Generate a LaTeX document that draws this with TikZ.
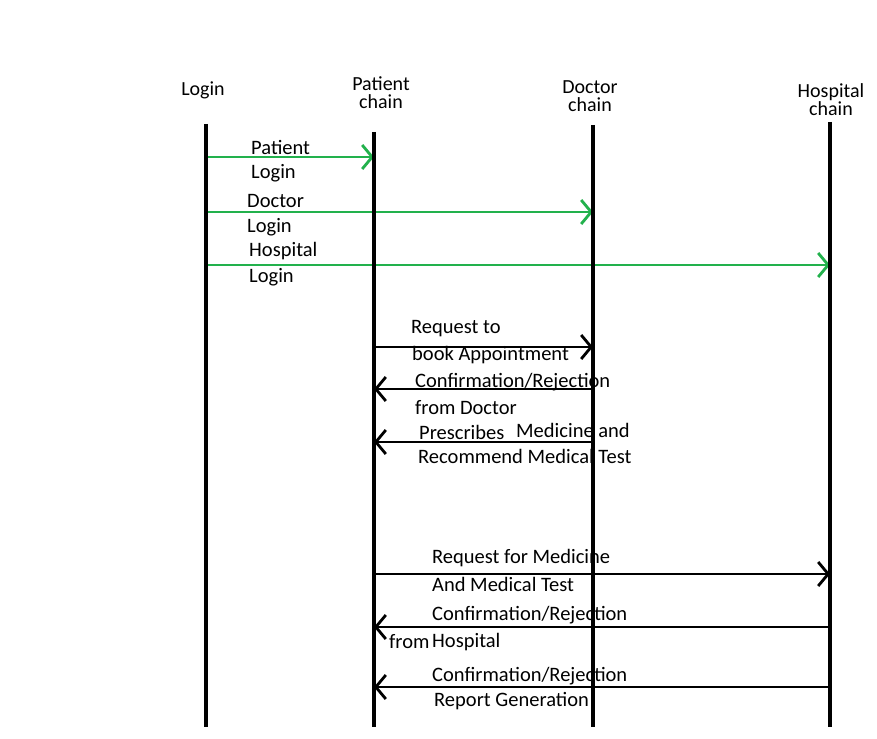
\documentclass[tikz,border=0pt]{standalone}
\usepackage{fontspec}
\setmainfont{Carlito}
\usetikzlibrary{arrows.meta}
\definecolor{msggreen}{RGB}{34,177,76}
\begin{document}
\begin{tikzpicture}[x=1pt,y=-1pt,
  lifeline/.style={line width=4.5pt},
  head/.style={font=\fontsize{20}{18}\selectfont, align=center, inner sep=0pt},
  lbl/.style={font=\fontsize{20.5}{20}\selectfont, anchor=west, inner sep=0pt},
  tip/.style={-{Straight Barb[length=10pt,width=24pt,line width=2.8pt]}},
  gmsg/.style={tip, draw=msggreen, line width=2.8pt},
  bmsg/.style={tip, draw=black, line width=2.8pt}]
\useasboundingbox (0,0) rectangle (877,738);
\fill[white] (0,0) rectangle (877,738);
% headers
\node[head] (hL) at (203,90) {Login};
\node[head] (hP) at (381,93) {Patient\\chain};
\node[head] (hD) at (590,96) {Doctor\\chain};
\node[head] (hH) at (831,100) {Hospital\\chain};
% lifeline ends
\coordinate (Ltop) at (206,124); \coordinate (Lbot) at (206,727);
\coordinate (Ptop) at (374,132); \coordinate (Pbot) at (374,727);
\coordinate (Dtop) at (593,125); \coordinate (Dbot) at (593,727);
\coordinate (Htop) at (830,122); \coordinate (Hbot) at (830,727);
% message anchor points
\foreach \n/\y in {1/157,2/212,3/265,4/347,5/389,6/442,7/574,8/627,9/687}{
  \coordinate (L\n) at (206,\y);
  \coordinate (P\n) at (374,\y);
  \coordinate (D\n) at (593,\y);
  \coordinate (H\n) at (830,\y);
}
% labels
\node[lbl] (t1a) at (251,147) {Patient};
\node[lbl] (t1b) at (251,173) {Login};
\node[lbl] (t2a) at (247,201) {Doctor};
\node[lbl] (t2b) at (247,227) {Login};
\node[lbl] (t3a) at (249,251) {Hospital};
\node[lbl] (t3b) at (249,277) {Login};
\node[lbl] (t4a) at (411,329) {Request to};
\node[lbl] (t4b) at (412,355) {book Appointment};
\node[lbl] (t5a) at (415,382) {Confirmation/Rejection};
\node[lbl] (t5b) at (415,408) {from Doctor};
\node[lbl] (t6a) at (419,432) {Prescribes};
\node[lbl] (t6c) at (516,430) {Medicine and};
\node[lbl] (t6b) at (418,456) {Recommend Medical Test};
\node[lbl] (t7a) at (432,558) {Request for Medicine};
\node[lbl] (t7b) at (432,584) {And Medical Test};
\node[lbl] (t8a) at (432,615) {Confirmation/Rejection};
\node[lbl] (t8c) at (389,642) {from};
\node[lbl] (t8b) at (432,642) {Hospital};
\node[lbl] (t9a) at (432,676) {Confirmation/Rejection};
\node[lbl] (t9b) at (434,701) {Report Generation};
% messages
\draw[gmsg] (L1) -- (P1);
\draw[gmsg] (L2) -- (D2);
\draw[gmsg] (L3) -- (H3);
\draw[bmsg] (P4) -- (D4);
\draw[bmsg] (D5) -- (P5);
\draw[bmsg] (D6) -- (P6);
\draw[bmsg] (P7) -- (H7);
\draw[bmsg] (H8) -- (P8);
\draw[bmsg] (H9) -- (P9);
% lifelines
\draw[lifeline] (Ltop) -- (Lbot);
\draw[lifeline] (Ptop) -- (Pbot);
\draw[lifeline] (Dtop) -- (Dbot);
\draw[lifeline] (Htop) -- (Hbot);
\end{tikzpicture}
\end{document}
